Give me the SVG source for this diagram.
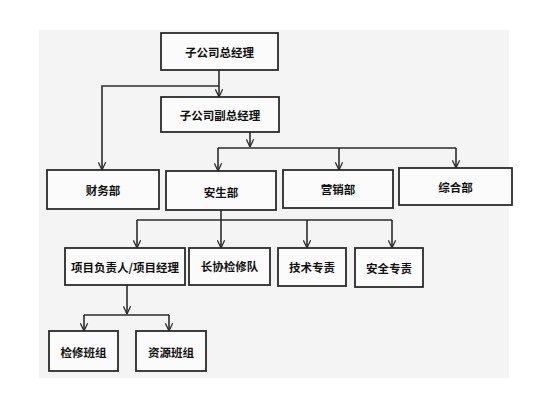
<svg xmlns="http://www.w3.org/2000/svg" width="554" height="400" viewBox="0 0 554 400">
<style>
.box{fill:#fbfbfb;stroke:#2b2b2b;stroke-width:1.8}
.lbl{font-family:"Noto Sans CJK SC","Noto Sans CJK JP",sans-serif;font-size:11.5px;font-weight:bold;fill:#111;text-anchor:middle;dominant-baseline:central}
.ln{fill:none;stroke:#2b2b2b;stroke-width:1.6}
</style>
<defs>
<marker id="arr" viewBox="0 0 10 10" refX="9.5" refY="5" markerWidth="9" markerHeight="9" markerUnits="userSpaceOnUse" orient="auto">
<path d="M1,1 L9.5,5 L1,9" fill="none" stroke="#2b2b2b" stroke-width="1.4"/>
</marker>
</defs>
<rect x="0" y="0" width="554" height="400" fill="#ffffff"/>
<rect x="39" y="30" width="470" height="348" fill="#f4f4f4"/>
<g id="connectors">
<path class="ln" d="M219,70 V97" marker-end="url(#arr)"/>
<path class="ln" d="M219,86 H102 V170" marker-end="url(#arr)"/>
<path class="ln" d="M250,132 V147" marker-end="url(#arr)"/>
<path class="ln" d="M218,148 H456"/>
<path class="ln" d="M218,148 V171" marker-end="url(#arr)"/>
<path class="ln" d="M339,148 V170" marker-end="url(#arr)"/>
<path class="ln" d="M456,148 V168" marker-end="url(#arr)"/>
<path class="ln" d="M221,210 V248" marker-end="url(#arr)"/>
<path class="ln" d="M137,220 H392"/>
<path class="ln" d="M137,220 V248" marker-end="url(#arr)"/>
<path class="ln" d="M307,220 V248" marker-end="url(#arr)"/>
<path class="ln" d="M392,220 V248" marker-end="url(#arr)"/>
<path class="ln" d="M127,285 V314" marker-end="url(#arr)"/>
<path class="ln" d="M84,315 H169"/>
<path class="ln" d="M84,315 V331" marker-end="url(#arr)"/>
<path class="ln" d="M169,315 V331" marker-end="url(#arr)"/>
</g>
<g id="n-zgs-zjl"><rect class="box" x="161" y="33" width="117" height="37"/><text class="lbl" x="219.5" y="52">子公司总经理</text></g>
<g id="n-zgs-fzjl"><rect class="box" x="161" y="97" width="118" height="35"/><text class="lbl" x="220" y="115">子公司副总经理</text></g>
<g id="n-cwb"><rect class="box" x="47" y="170" width="112" height="39"/><text class="lbl" x="103" y="190">财务部</text></g>
<g id="n-asb"><rect class="box" x="166" y="171" width="110" height="39"/><text class="lbl" x="221" y="192">安生部</text></g>
<g id="n-yxb"><rect class="box" x="283" y="170" width="110" height="38"/><text class="lbl" x="338" y="189">营销部</text></g>
<g id="n-zhb"><rect class="box" x="399" y="168" width="113" height="37"/><text class="lbl" x="455.5" y="187">综合部</text></g>
<g id="n-xmfzr"><rect class="box" x="65" y="248" width="120" height="37"/><text class="lbl" x="125" y="267">项目负责人/项目经理</text></g>
<g id="n-cxjxd"><rect class="box" x="189" y="248" width="81" height="37"/><text class="lbl" x="229.5" y="266">长协检修队</text></g>
<g id="n-jszz"><rect class="box" x="278" y="248" width="68" height="38"/><text class="lbl" x="312" y="267">技术专责</text></g>
<g id="n-aqzz"><rect class="box" x="355" y="248" width="68" height="39"/><text class="lbl" x="389" y="268">安全专责</text></g>
<g id="n-jxbz"><rect class="box" x="49" y="331" width="69" height="40"/><text class="lbl" x="83.5" y="352">检修班组</text></g>
<g id="n-zybz"><rect class="box" x="136" y="331" width="70" height="40"/><text class="lbl" x="171" y="352">资源班组</text></g>
</svg>
